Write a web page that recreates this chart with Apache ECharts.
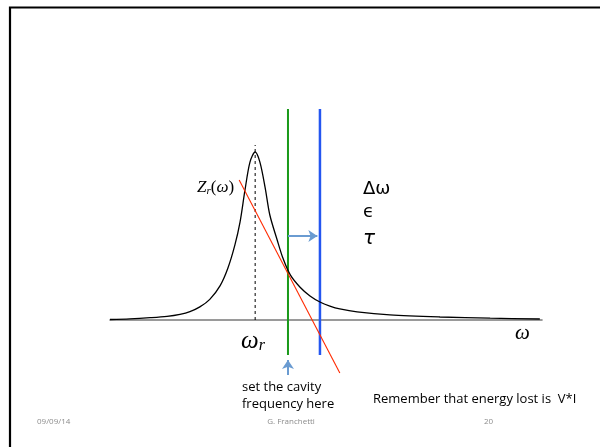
<!DOCTYPE html>
<html>
<head>
<meta charset="utf-8">
<script src="https://cdn.jsdelivr.net/npm/echarts@6/dist/echarts.min.js"></script>
<style>
  html, body { margin: 0; padding: 0; background: #fff; }
  #chart { width: 600px; height: 447px; }
</style>
</head>
<body>
<div id="chart"></div>
<script>
// Resonance curve Re Z_r(ω), normalised so that the peak is 100
const omega = [0, 4.6, 9.3, 13.2, 16.2, 18.5, 20.8, 23.1, 25.5, 27.3, 28.9, 30.1, 31.25, 32.4, 33.6,
               34.7, 35.9, 37.0, 38.7, 40.0, 41.7, 44.0, 46.3, 48.6, 50.9, 53.2, 57.2, 64.8, 76.4, 88.0, 99.5];
const impedance = [0.3, 0.7, 1.4, 2.2, 3.4, 5.0, 7.8, 12.3, 20.5, 31, 44.6, 58.3, 77.4, 94, 100,
                   94, 79, 62.5, 47.6, 37.0, 27.0, 19.5, 14.3, 10.7, 8.3, 6.6, 4.8, 3.0, 1.8, 1.1, 0.6];

// Resonant frequency and the two cavity frequencies
const omegaR = 33.6;
const omegaCavity = 41.2;
const omegaShifted = 48.6;

// Red tangent-like line through the curve
const slopeLineX = [29.9, 53.2];
const slopeLineY = [83.3, -31.5];

// Vertical extent of the frequency markers
const markerSpan = [-20.8, 125.6];
const peakMarkerTop = 104.2;
const shiftArrowLevel = 50;
const upArrowSpan = [-32.7, -23.8];

const arrowColor = '#6a9bd1';

const chart = echarts.init(document.getElementById('chart'), null, { renderer: 'canvas' });

const mathFont = '"Liberation Serif", "DejaVu Serif", serif';
const textFont = '"Open Sans", "Noto Sans", sans-serif';

chart.setOption({
  animation: false,
  backgroundColor: '#ffffff',
  grid: { left: 110, right: 58, top: 101.6, bottom: 59.8 },
  xAxis: {
    type: 'value', min: 0, max: 100,
    axisLine: { show: true, onZero: true, lineStyle: { color: '#7a7a7a', width: 1.6 } },
    axisTick: { show: false }, axisLabel: { show: false }, splitLine: { show: false }
  },
  yAxis: {
    type: 'value', min: -40, max: 130, show: false,
    splitLine: { show: false }
  },
  series: [
    {
      name: 'Z_r',
      type: 'line', smooth: 0.3, showSymbol: false, silent: true,
      lineStyle: { color: '#000', width: 1.3 },
      data: omega.map((w, i) => [w, impedance[i]]),
      z: 5
    },
    {
      name: 'omega_r',
      type: 'line', showSymbol: false, silent: true,
      lineStyle: { color: '#000', width: 1, type: [3, 3] },
      data: [[omegaR, 0], [omegaR, peakMarkerTop]]
    },
    {
      name: 'cavity',
      type: 'line', showSymbol: false, silent: true,
      lineStyle: { color: '#1a9a1a', width: 2 },
      data: [[omegaCavity, markerSpan[0]], [omegaCavity, markerSpan[1]]]
    },
    {
      name: 'shifted',
      type: 'line', showSymbol: false, silent: true,
      lineStyle: { color: '#2456f0', width: 2.5 },
      data: [[omegaShifted, markerSpan[0]], [omegaShifted, markerSpan[1]]]
    },
    {
      name: 'slope',
      type: 'line', showSymbol: false, silent: true,
      lineStyle: { color: '#ff2a00', width: 1.1 },
      data: [[slopeLineX[0], slopeLineY[0]], [slopeLineX[1], slopeLineY[1]]],
      z: 6
    },
    {
      name: 'arrows',
      type: 'line', data: [], silent: true,
      markLine: {
        silent: true,
        symbol: ['none', 'arrow'],
        symbolSize: [9, 9],
        label: { show: false },
        lineStyle: { color: arrowColor, width: 2, type: 'solid' },
        data: [
          [{ coord: [omegaCavity, shiftArrowLevel] }, { coord: [omegaShifted - 0.6, shiftArrowLevel] }],
          [{ coord: [omegaCavity, upArrowSpan[0]] }, { coord: [omegaCavity, upArrowSpan[1]] }]
        ]
      }
    }
  ],
  graphic: [
    // slide frame
    { type: 'polyline', shape: { points: [[10, 447], [10, 7.5], [600, 7.5]] },
      style: { stroke: '#000', lineWidth: 2.2, fill: null }, silent: true },
    // Z_r(ω)
    { type: 'text', x: 197, y: 179, silent: true,
      style: { text: '{i|Z}{s|r}{n|(}{i|ω}{n|)}', rich: {
        i: { font: 'italic 17px ' + mathFont, fill: '#000' },
        s: { font: 'italic 11px ' + mathFont, fill: '#000', padding: [7, 0, 0, 0] },
        n: { font: '17px ' + mathFont, fill: '#000' }
      } } },
    // ω_r
    { type: 'text', x: 241, y: 328, silent: true,
      style: { text: '{i|ω}{s|r}', rich: {
        i: { font: 'italic 25px ' + mathFont, fill: '#000' },
        s: { font: 'italic 16px ' + mathFont, fill: '#000', padding: [10, 0, 0, 0] }
      } } },
    // ω on the axis
    { type: 'text', x: 515, y: 323, silent: true,
      style: { text: 'ω', font: 'italic 21px ' + mathFont, fill: '#000' } },
    // Δω, ϵ, τ
    { type: 'text', x: 363, y: 180, silent: true,
      style: { text: 'Δω', font: '18px "DejaVu Sans", sans-serif', fill: '#000' } },
    { type: 'text', x: 363, y: 203, silent: true,
      style: { text: 'ϵ', font: '18px "DejaVu Sans", sans-serif', fill: '#000' } },
    { type: 'text', x: 363, y: 229, silent: true,
      style: { text: 'τ', font: 'italic 20px "DejaVu Sans", sans-serif', fill: '#000' } },
    // captions
    { type: 'text', x: 242, y: 379, silent: true,
      style: { text: 'set the cavity\nfrequency here', font: '13px ' + textFont, lineHeight: 17, fill: '#000' } },
    { type: 'text', x: 373, y: 393, silent: true,
      style: { text: 'Remember that energy lost is  V*I', font: '13px ' + textFont, fill: '#000' } },
    // footer
    { type: 'text', x: 37, y: 418, silent: true,
      style: { text: '09/09/14', font: '8px ' + textFont, fill: '#8c8c8c' } },
    { type: 'text', x: 291, y: 418, silent: true,
      style: { text: 'G. Franchetti', font: '8px ' + textFont, fill: '#8c8c8c', align: 'center' } },
    { type: 'text', x: 484, y: 418, silent: true,
      style: { text: '20', font: '8px ' + textFont, fill: '#8c8c8c' } }
  ]
});
</script>
</body>
</html>
